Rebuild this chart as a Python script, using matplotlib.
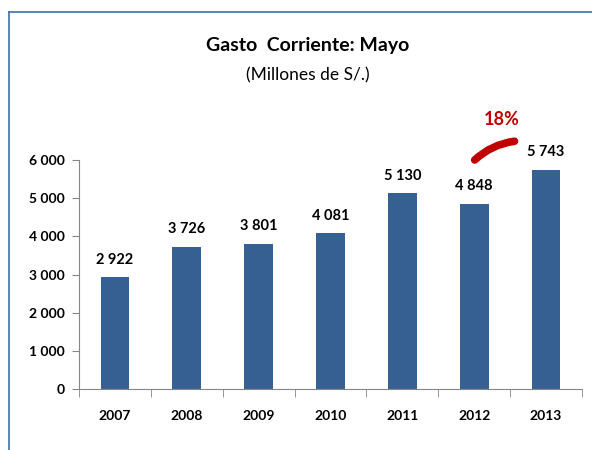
import matplotlib.pyplot as plt
from matplotlib.patches import FancyArrowPatch
from matplotlib.lines import Line2D

plt.rcParams['font.family'] = ['Lato', 'DejaVu Sans']

# datos
years = ['2007', '2008', '2009', '2010', '2011', '2012', '2013']
gasto = [2922, 3726, 3801, 4081, 5130, 4848, 5743]
yticks = [0, 1000, 2000, 3000, 4000, 5000, 6000]
growth = '18%'

def fmt(v):
    return '{:,}'.format(v).replace(',', ' ')

fig = plt.figure(figsize=(5.92, 4.5), dpi=100)
ax = fig.add_axes([0.1334, 0.1356, 0.8496, 0.5088])

x = range(len(years))
ax.bar(x, gasto, width=0.4, color='#366092')
for i, v in zip(x, gasto):
    ax.text(i, v + 280, fmt(v), ha='center', va='bottom', fontsize=10.5, fontweight='bold')

ax.set_xlim(-0.5, len(years) - 0.5)
ax.set_ylim(0, 6000)
ax.set_yticks(yticks)
ax.set_yticklabels([fmt(v) for v in yticks], fontsize=10, fontweight='bold')
ax.set_xticks(list(x))
ax.set_xticklabels(years, fontsize=10, fontweight='bold')
ax.tick_params(axis='x', length=0, pad=15)
ax.tick_params(axis='y', length=5, color='#868686', pad=5)
# marcas entre categorias
ax.set_xticks([i - 0.5 for i in range(len(years) + 1)], minor=True)
ax.tick_params(axis='x', which='minor', length=6, color='#868686')
for s in ['top', 'right']:
    ax.spines[s].set_visible(False)
for s in ['left', 'bottom']:
    ax.spines[s].set_color('#868686')

# arco de crecimiento
arc = FancyArrowPatch((4.98, 5950), (5.6, 6500), connectionstyle='arc3,rad=-0.18',
                      arrowstyle='-', color='#c00000', lw=5.5, capstyle='round',
                      clip_on=False)
ax.add_patch(arc)
ax.text(5.38, 6850, growth, ha='center', va='bottom', fontsize=13,
        fontweight='bold', color='#c00000', clip_on=False)

fig.text(0.52, 0.9, 'Gasto  Corriente: Mayo', ha='center', va='center',
         fontsize=14, fontweight='bold')
fig.text(0.52, 0.833, '(Millones de S/.)', ha='center', va='center', fontsize=12.5)

# marco
fig.add_artist(Line2D([0.0152, 1.0], [0.973, 0.973], color='#3f6ea6', lw=1.2))
fig.add_artist(Line2D([0.0152, 0.0152], [0.0, 0.973], color='#3f6ea6', lw=1.2))

fig.savefig('out.png', dpi=100)
